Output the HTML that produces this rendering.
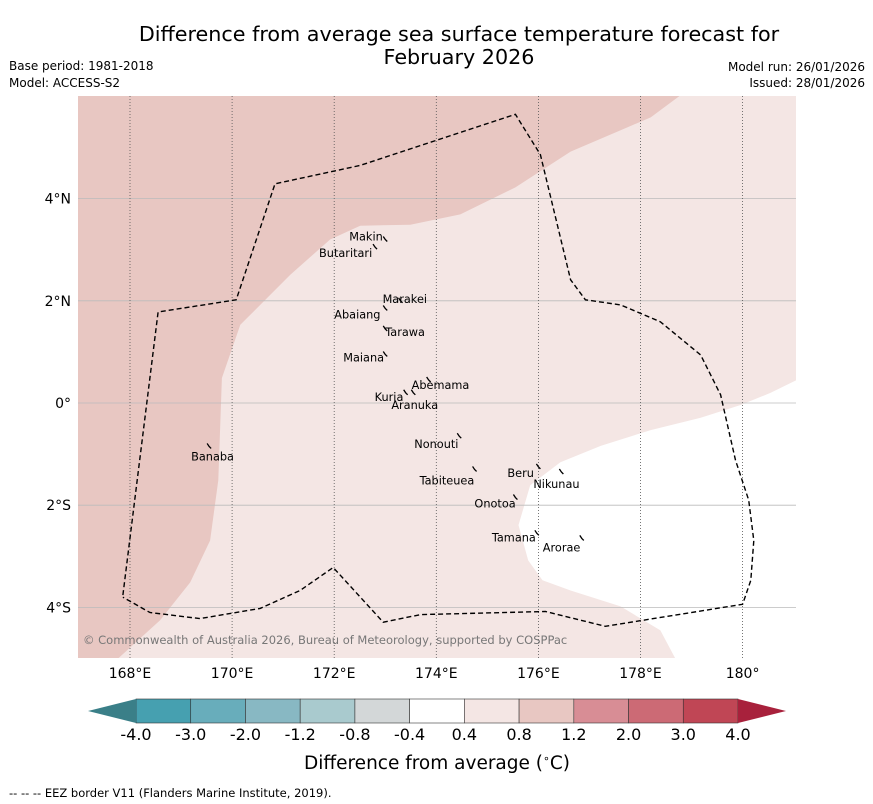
<!DOCTYPE html>
<html><head><meta charset="utf-8"><style>
body{margin:0;background:#fff;}
svg{display:block;font-family:"DejaVu Sans","Liberation Sans",sans-serif;}
</style></head><body>
<svg width="873" height="804" viewBox="0 0 873 804" id="chart">
<text x="459" y="41" font-size="20.7" text-anchor="middle">Difference from average sea surface temperature forecast for</text>
<text x="459" y="64" font-size="20.7" text-anchor="middle">February 2026</text>
<text x="9" y="70" font-size="12">Base period: 1981-2018</text>
<text x="9" y="87" font-size="12">Model: ACCESS-S2</text>
<text x="865" y="71" font-size="12" text-anchor="end">Model run: 26/01/2026</text>
<text x="865" y="87" font-size="12" text-anchor="end">Issued: 28/01/2026</text>
<defs><clipPath id="mapclip"><rect x="78" y="96" width="718" height="562"/></clipPath></defs>
<g id="map" clip-path="url(#mapclip)">
<rect x="78" y="96" width="718" height="562" fill="#f4e6e4"/>
</g>
<g id="axes"></g>
<text x="83" y="644" font-size="11.5" fill="#777">© Commonwealth of Australia 2026, Bureau of Meteorology, supported by COSPPac</text>
<g id="cbar"></g>
<text x="437" y="769" font-size="18.5" text-anchor="middle">Difference from average (<tspan font-size="11" dy="-7">∘</tspan><tspan dy="7">C)</tspan></text>
<text x="9" y="797" font-size="11.5">--  --  -- EEZ border V11 (Flanders Marine Institute, 2019).</text>
</svg>
<script>
const lonTicks=[168,170,172,174,176,178,180];
const lonLabels=["168°E","170°E","172°E","174°E","176°E","178°E","180°"];
const latTicks=[4,2,0,-2,-4];
const latLabels=["4°N","2°N","0°","2°S","4°S"];
const warmRegion=[[166.9,6.1],[178.78,6.02],[178.2,5.59],[176.63,4.92],[175.55,4.22],[174.47,3.69],[173.49,3.49],[172.51,3.47],[171.92,3.2],[171.14,2.51],[170.16,1.53],[169.8,0.49],[169.73,-1.51],[169.57,-2.69],[169.18,-3.51],[168.59,-4.25],[167.71,-5.05],[166.9,-5.05]];
const coolRegion=[[181.2,0.47],[181.06,0.45],[180.55,0.2],[179.96,-0.04],[179.18,-0.29],[178.2,-0.53],[177.22,-0.84],[176.43,-1.16],[175.84,-1.61],[175.61,-2.39],[175.8,-3.08],[176.08,-3.47],[176.63,-3.67],[177.61,-3.98],[178.39,-4.45],[178.71,-5.05],[181.2,-5.05]];
const eez=[[167.86,-3.76],[168.55,1.78],[170.08,2.02],[170.84,4.29],[172.51,4.65],[175.55,5.65],[176.04,4.86],[176.63,2.41],[176.92,2.02],[177.61,1.92],[178.39,1.59],[179.18,0.94],[179.57,0.16],[179.86,-1.12],[180.12,-1.9],[180.22,-2.69],[180.16,-3.47],[180.0,-3.94],[177.31,-4.37],[176.14,-4.08],[173.69,-4.14],[172.96,-4.29],[171.98,-3.22],[171.33,-3.67],[170.55,-4.02],[169.37,-4.22],[168.39,-4.1],[167.86,-3.8]];
const islandNames=["Makin","Butaritari","Marakei","Abaiang","Tarawa","Maiana","Abemama","Kuria","Aranuka","Nonouti","Banaba","Tabiteuea","Beru","Nikunau","Onotoa","Tamana","Arorae"];
const islandLon=[173.0,172.8,173.3,173.0,173.0,173.0,173.85,173.4,173.55,174.45,169.55,174.75,176.0,176.45,175.55,175.97,176.85];
const islandLat=[3.2,3.05,2.0,1.85,1.45,0.95,0.45,0.2,0.2,-0.65,-0.85,-1.3,-1.25,-1.35,-1.85,-2.55,-2.65];
const labelDx=[-36,-56,-18,-51,0,-42,-17,-31,-22,-45,-18,-55,-31,-28,-41,-45,-39];
const labelDy=[1,10,2,10,7,7,9,8,16,12,14,15,10,16,10,8,13];
const cbBounds=[-4.0,-3.0,-2.0,-1.2,-0.8,-0.4,0.4,0.8,1.2,2.0,3.0,4.0];
const cbColors=["#46a0b0","#68adbb","#88b8c3","#a9cace","#d3d7d8","#ffffff","#f4e6e4","#e8c7c2","#d88d95","#cc6a75","#c04655"];
const cbLabels=["-4.0","-3.0","-2.0","-1.2","-0.8","-0.4","0.4","0.8","1.2","2.0","3.0","4.0"];
const NS="http://www.w3.org/2000/svg";
const X=lon=>130+(lon-168)*51.05;
const Y=lat=>403-lat*51.1;
function el(t,a,p){const e=document.createElementNS(NS,t);for(const k in a)e.setAttribute(k,a[k]);p.appendChild(e);return e;}
const pts=arr=>arr.map(d=>X(d[0]).toFixed(1)+","+Y(d[1]).toFixed(1)).join(" ");
const map=document.getElementById('map');
let w=el('polygon',{points:pts(warmRegion),fill:"#e8c7c2"},map);


let c=el('polygon',{points:pts(coolRegion),fill:"#ffffff"},map);


latTicks.forEach((v,i)=>{let l=el('line',{x1:78,x2:796,y1:Y(v),y2:Y(v),stroke:"#bbb","stroke-width":0.8},map);

});
lonTicks.forEach((v,i)=>{let l=el('line',{x1:X(v),x2:X(v),y1:96,y2:658,stroke:"#555","stroke-width":0.8,"stroke-dasharray":"1,2"},map);

});
let e=el('polyline',{points:pts(eez),fill:"none",stroke:"#000","stroke-width":1.4,"stroke-dasharray":"5,3"},map);


islandNames.forEach((n,i)=>{const x=X(islandLon[i]),y=Y(islandLat[i]);
let s=el('path',{d:`M${x-2},${y-3} l2,3 l2,2`,stroke:"#000","stroke-width":1.3,fill:"none"},map);


let t=el('text',{x:x+labelDx[i],y:y+labelDy[i],"font-size":11.3},map);t.textContent=n;

});
const ax=document.getElementById('axes');
lonTicks.forEach((v,i)=>{let t=el('text',{x:X(v),y:678,"font-size":14,"text-anchor":"middle"},ax);t.textContent=lonLabels[i];

});
latTicks.forEach((v,i)=>{let t=el('text',{x:71,y:Y(v)+5,"font-size":14,"text-anchor":"end"},ax);t.textContent=latLabels[i];

});
const cb=document.getElementById('cbar');
const cx0=136,cx1=738,cy=699,ch=24,n=cbColors.length,bw=(cx1-cx0)/n;
cbColors.forEach((col,i)=>{let r=el('rect',{x:cx0+i*bw,y:cy,width:bw,height:ch,fill:col,stroke:"#333","stroke-width":0.6},cb);

});
let lt=el('polygon',{points:`${cx0},${cy} 88,${cy+ch/2} ${cx0},${cy+ch}`,fill:"#3a7f88"},cb);


let rt=el('polygon',{points:`${cx1},${cy} 786,${cy+ch/2} ${cx1},${cy+ch}`,fill:"#a8213c"},cb);


cbLabels.forEach((l,i)=>{let t=el('text',{x:cx0+i*bw,y:740,"font-size":16,"text-anchor":"middle"},cb);t.textContent=l;

});
</script>
</body></html>
